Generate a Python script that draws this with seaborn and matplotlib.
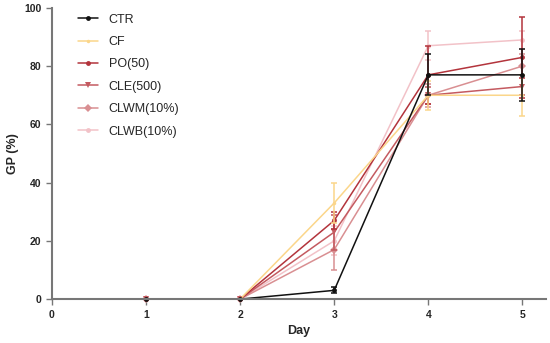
import seaborn as sns
import pandas as pd
import numpy as np
import matplotlib.pyplot as plt

days = [1, 2, 3, 4, 5]
groups = ['CTR', 'CF', 'PO(50)', 'CLE(500)', 'CLWM(10%)', 'CLWB(10%)']

ctr = [0, 0, 3, 77, 77]
cf = [0, 0, 33, 70, 70]
po = [0, 0, 27, 77, 83]
cle = [0, 0, 23, 70, 73]
clwm = [0, 0, 17, 70, 80]
clwb = [0, 0, 20, 87, 89]

ctr_err = [0, 0, 1, 7, 9]
cf_err = [0, 0, 7, 5, 7]
po_err = [0, 0, 3, 10, 14]
cle_err = [0, 0, 6, 3, 3]
clwm_err = [0, 0, 7, 4, 4]
clwb_err = [0, 0, 5, 5, 3]

colors = ['#111111', '#fbd68a', '#b3343c', '#c45a60', '#d98f92', '#f2c2c8']
markers = ['o', 'o', 'o', 'v', 'D', 'o']
msizes = [3.5, 2.5, 3.5, 5, 4, 3.5]

values = [ctr, cf, po, cle, clwm, clwb]
errors = [ctr_err, cf_err, po_err, cle_err, clwm_err, clwb_err]

rows = []
for g, v, e in zip(groups, values, errors):
    for d, y, s in zip(days, v, e):
        rows.append({'Day': d, 'GP': y, 'err': s, 'group': g})
df = pd.DataFrame(rows)

sns.set_style('white')
plt.rcParams['font.family'] = ['Liberation Sans', 'DejaVu Sans']

fig = plt.figure(figsize=(5.5, 3.43), dpi=100)
ax = fig.add_axes([0.0945, 0.128, 0.898, 0.849])

# draw lighter groups first so CTR sits on top
for g, c, m, ms in list(zip(groups, colors, markers, msizes))[::-1]:
    sub = df[df['group'] == g]
    sns.lineplot(data=sub, x='Day', y='GP', color=c, marker=m, markersize=ms,
                 markeredgewidth=0, linewidth=1.1, ax=ax, clip_on=False)
    ax.errorbar(sub['Day'], sub['GP'], yerr=sub['err'], fmt='none', ecolor=c,
                elinewidth=1.1, capsize=2.5, capthick=1.1, clip_on=False)

handles = [plt.Line2D([], [], color=c, marker=m, markersize=ms, lw=1.1, markeredgewidth=0)
           for c, m, ms in zip(colors, markers, msizes)]
ax.legend(handles, groups, loc='upper left', bbox_to_anchor=(0.053, 0.98), frameon=False,
          fontsize=9, handlelength=1.6, labelspacing=0.83, handletextpad=0.85,
          borderpad=0, borderaxespad=0)

ax.set_xlim(0, 5.25)
ax.set_ylim(0, 100)
ax.set_xticks([0, 1, 2, 3, 4, 5])
ax.set_yticks([0, 20, 40, 60, 80, 100])
ax.set_xlabel('Day', fontsize=9, fontweight='bold')
ax.set_ylabel('GP (%)', fontsize=9, fontweight='bold')
for lab in ax.get_xticklabels() + ax.get_yticklabels():
    lab.set_fontweight('bold')
ax.tick_params(axis='both', labelsize=7.5, length=4, width=1, color='#777777', direction='out',
               bottom=True, left=True)
for s in ['top', 'right']:
    ax.spines[s].set_visible(False)
for s in ['left', 'bottom']:
    ax.spines[s].set_color('#777777')
    ax.spines[s].set_linewidth(1.5)

fig.savefig('out.png', dpi=100)
